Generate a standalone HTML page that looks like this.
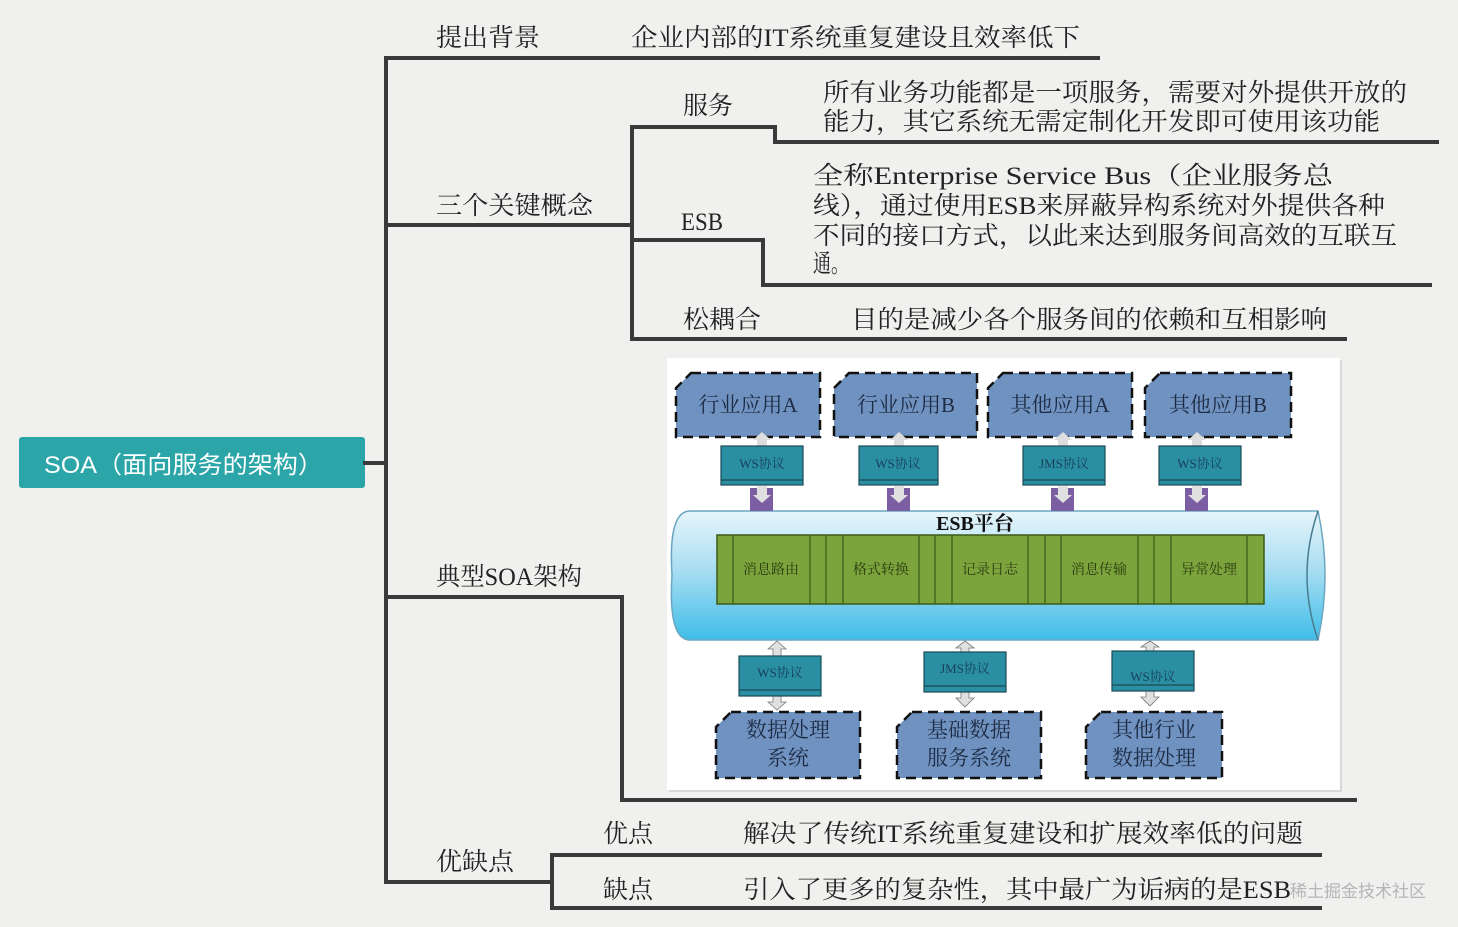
<!DOCTYPE html>
<html><head><meta charset="utf-8"><style>
html,body{margin:0;padding:0;background:#f0f0ef;}
svg{display:block;}
.t{font-family:"Liberation Serif","Noto Serif CJK SC",serif;fill:#222;font-size:25px;}
.s{font-family:"Liberation Serif","Noto Serif CJK SC",serif;font-size:21px;fill:#1d2b44;}
.p{font-family:"Liberation Serif","Noto Serif CJK SC",serif;font-size:13px;fill:#17405a;}
.g{font-family:"Liberation Serif","Noto Serif CJK SC",serif;font-size:14px;fill:#2b3a10;}
</style></head><body>
<svg width="1458" height="927" viewBox="0 0 1458 927" xmlns="http://www.w3.org/2000/svg">
<defs>
<linearGradient id="cyl" x1="0" y1="0" x2="0" y2="1">
<stop offset="0" stop-color="#e6f5fb"/><stop offset="0.45" stop-color="#a9def2"/><stop offset="1" stop-color="#3fbde8"/>
</linearGradient>
</defs>
<rect width="1458" height="927" fill="#f0f0ef"/>
<rect x="19" y="437" width="346" height="51" rx="3" fill="#2ba5a8"/>
<text x="44" y="473" font-family="'Liberation Sans','Noto Sans CJK SC',sans-serif" font-size="24" fill="#fff" textLength="279" lengthAdjust="spacingAndGlyphs">SOA（面向服务的架构）</text>
<g stroke="#3a3a3a" stroke-width="4" fill="none" stroke-linecap="square">
<line x1="365" y1="463" x2="386" y2="463"/>
<line x1="386" y1="58" x2="386" y2="882"/>
<line x1="386" y1="58" x2="1098" y2="58"/>
<line x1="386" y1="225" x2="632" y2="225"/>
<line x1="632" y1="127" x2="632" y2="339"/>
<polyline points="632,127 775,127 775,142 1437,142"/>
<polyline points="632,240 763,240 763,285 1430,285"/>
<line x1="632" y1="339" x2="1345" y2="339"/>
<polyline points="386,597 622,597 622,800 1355,800"/>
<line x1="386" y1="882" x2="552" y2="882"/>
<line x1="552" y1="855" x2="552" y2="908"/>
<line x1="552" y1="855" x2="1320" y2="855"/>
<line x1="552" y1="908" x2="1320" y2="908"/>
</g>
<text class="t" x="436" y="46" textLength="104" lengthAdjust="spacingAndGlyphs">提出背景</text>
<text class="t" x="631" y="46" textLength="449" lengthAdjust="spacingAndGlyphs">企业内部的IT系统重复建设且效率低下</text>
<text class="t" x="436" y="214" textLength="157" lengthAdjust="spacingAndGlyphs">三个关键概念</text>
<text class="t" x="683" y="114" textLength="50" lengthAdjust="spacingAndGlyphs">服务</text>
<text class="t" x="823" y="101" textLength="584" lengthAdjust="spacingAndGlyphs">所有业务功能都是一项服务，需要对外提供开放的</text>
<text class="t" x="823" y="130" textLength="557" lengthAdjust="spacingAndGlyphs">能力，其它系统无需定制化开发即可使用该功能</text>
<text class="t" x="681" y="230" textLength="42" lengthAdjust="spacingAndGlyphs">ESB</text>
<text class="t" x="813" y="184" textLength="520" lengthAdjust="spacingAndGlyphs">全称Enterprise Service Bus（企业服务总</text>
<text class="t" x="813" y="214" textLength="572" lengthAdjust="spacingAndGlyphs">线），通过使用ESB来屏蔽异构系统对外提供各种</text>
<text class="t" x="813" y="244" textLength="584" lengthAdjust="spacingAndGlyphs">不同的接口方式，以此来达到服务间高效的互联互</text>
<text class="t" x="813" y="272" textLength="36" lengthAdjust="spacingAndGlyphs">通。</text>
<text class="t" x="683" y="328" textLength="78" lengthAdjust="spacingAndGlyphs">松耦合</text>
<text class="t" x="851" y="328" textLength="476" lengthAdjust="spacingAndGlyphs">目的是减少各个服务间的依赖和互相影响</text>
<text class="t" x="436" y="585" textLength="146" lengthAdjust="spacingAndGlyphs">典型SOA架构</text>
<text class="t" x="436" y="870" textLength="78" lengthAdjust="spacingAndGlyphs">优缺点</text>
<text class="t" x="603" y="842" textLength="50" lengthAdjust="spacingAndGlyphs">优点</text>
<text class="t" x="743" y="842" textLength="560" lengthAdjust="spacingAndGlyphs">解决了传统IT系统重复建设和扩展效率低的问题</text>
<text class="t" x="603" y="898" textLength="50" lengthAdjust="spacingAndGlyphs">缺点</text>
<text class="t" x="743" y="898" textLength="548" lengthAdjust="spacingAndGlyphs">引入了更多的复杂性，其中最广为诟病的是ESB</text>
<rect x="669" y="360" width="673" height="432" fill="#d8d8d8"/>
<rect x="667" y="358" width="673" height="432" fill="#fff"/>
<path d="M690,511 L1318,511 Q1332,575 1318,640 L690,640 Q668,640 672,575 Q668,511 690,511 Z" fill="url(#cyl)" stroke="#6aa6c0" stroke-width="1.5"/>
<path d="M1318,511 Q1296,575 1318,640" fill="none" stroke="#4a7a90" stroke-width="1.5"/>
<text x="975" y="530" text-anchor="middle" font-family="'Liberation Serif','Noto Serif CJK SC',serif" font-size="20" font-weight="bold" fill="#111">ESB平台</text>
<rect x="717" y="535" width="547" height="69" fill="#7ba43c" stroke="#3c5a18" stroke-width="1.5"/>
<g stroke="#3c5a18" stroke-width="1.2">
<line x1="733" y1="535" x2="733" y2="604"/><line x1="810" y1="535" x2="810" y2="604"/><line x1="826" y1="535" x2="826" y2="604"/><line x1="843" y1="535" x2="843" y2="604"/>
<line x1="919" y1="535" x2="919" y2="604"/><line x1="935" y1="535" x2="935" y2="604"/><line x1="952" y1="535" x2="952" y2="604"/>
<line x1="1028" y1="535" x2="1028" y2="604"/><line x1="1045" y1="535" x2="1045" y2="604"/><line x1="1061" y1="535" x2="1061" y2="604"/>
<line x1="1138" y1="535" x2="1138" y2="604"/><line x1="1154" y1="535" x2="1154" y2="604"/><line x1="1171" y1="535" x2="1171" y2="604"/><line x1="1247" y1="535" x2="1247" y2="604"/>
</g>
<text class="g" x="771" y="574" text-anchor="middle">消息路由</text>
<text class="g" x="881" y="574" text-anchor="middle">格式转换</text>
<text class="g" x="990" y="574" text-anchor="middle">记录日志</text>
<text class="g" x="1099" y="574" text-anchor="middle">消息传输</text>
<text class="g" x="1209" y="574" text-anchor="middle">异常处理</text>
<g fill="#7092c0" stroke="#111" stroke-width="2.5" stroke-dasharray="10,6">
<polygon points="691,373 820,373 820,437 676,437 676,388"/>
<polygon points="849,373 977,373 977,437 834,437 834,388"/>
<polygon points="1003,373 1132,373 1132,437 988,437 988,388"/>
<polygon points="1160,373 1291,373 1291,437 1145,437 1145,388"/>
<polygon points="731,712 860,712 860,778 716,778 716,727"/>
<polygon points="912,712 1041,712 1041,778 897,778 897,727"/>
<polygon points="1101,712 1222,712 1222,778 1086,778 1086,727"/>
</g>
<text class="s" x="748" y="412" text-anchor="middle">行业应用A</text>
<text class="s" x="906" y="412" text-anchor="middle">行业应用B</text>
<text class="s" x="1060" y="412" text-anchor="middle">其他应用A</text>
<text class="s" x="1218" y="412" text-anchor="middle">其他应用B</text>
<text class="s" x="788" y="737" text-anchor="middle">数据处理</text>
<text class="s" x="788" y="765" text-anchor="middle">系统</text>
<text class="s" x="969" y="737" text-anchor="middle">基础数据</text>
<text class="s" x="969" y="765" text-anchor="middle">服务系统</text>
<text class="s" x="1154" y="737" text-anchor="middle">其他行业</text>
<text class="s" x="1154" y="765" text-anchor="middle">数据处理</text>
<g>
<g transform="translate(762,0)"><rect x="-12" y="488" width="23" height="23" fill="#7b5fa2"/><polygon points="-5,432 5,432 5,438 9,438 0,446 -9,438 -5,438" fill="#ddd" transform="rotate(180 0 439)"/><polygon points="-5,486 5,486 5,495 9,495 0,503 -9,495 -5,495" fill="#e0e0e0"/></g>
<g transform="translate(899,0)"><rect x="-12" y="488" width="23" height="23" fill="#7b5fa2"/><polygon points="-5,432 5,432 5,438 9,438 0,446 -9,438 -5,438" fill="#ddd" transform="rotate(180 0 439)"/><polygon points="-5,486 5,486 5,495 9,495 0,503 -9,495 -5,495" fill="#e0e0e0"/></g>
<g transform="translate(1063,0)"><rect x="-12" y="488" width="23" height="23" fill="#7b5fa2"/><polygon points="-5,432 5,432 5,438 9,438 0,446 -9,438 -5,438" fill="#ddd" transform="rotate(180 0 439)"/><polygon points="-5,486 5,486 5,495 9,495 0,503 -9,495 -5,495" fill="#e0e0e0"/></g>
<g transform="translate(1197,0)"><rect x="-12" y="488" width="23" height="23" fill="#7b5fa2"/><polygon points="-5,432 5,432 5,438 9,438 0,446 -9,438 -5,438" fill="#ddd" transform="rotate(180 0 439)"/><polygon points="-5,486 5,486 5,495 9,495 0,503 -9,495 -5,495" fill="#e0e0e0"/></g>
</g>
<g fill="#e0e0e0" stroke="#777" stroke-width="0.8">
<polygon points="777,641 786,649 781,649 781,656 773,656 773,649 768,649"/><polygon points="773,696 781,696 781,702 786,702 777,710 768,702 773,702"/>
<polygon points="965,641 974,648 969,648 969,652 961,652 961,648 956,648"/><polygon points="961,692 969,692 969,698 974,698 965,707 956,698 961,698"/>
<polygon points="1150,641 1159,647 1154,647 1154,651 1146,651 1146,647 1141,647"/><polygon points="1146,691 1154,691 1154,697 1159,697 1150,706 1141,697 1146,697"/>
</g>
<g fill="#2b8fa3" stroke="#1b4a55" stroke-width="1.2">
<rect x="721" y="446" width="82" height="39"/><rect x="859" y="446" width="79" height="39"/><rect x="1023" y="446" width="82" height="39"/><rect x="1159" y="446" width="82" height="39"/>
<rect x="739" y="656" width="82" height="40"/><rect x="924" y="652" width="82" height="40"/><rect x="1112" y="651" width="82" height="40"/>
</g>
<g stroke="#1b4a55" stroke-width="1.2">
<line x1="721" y1="480" x2="803" y2="480"/><line x1="859" y1="480" x2="938" y2="480"/><line x1="1023" y1="480" x2="1105" y2="480"/><line x1="1159" y1="480" x2="1241" y2="480"/>
<line x1="739" y1="690" x2="821" y2="690"/><line x1="924" y1="686" x2="1006" y2="686"/><line x1="1112" y1="685" x2="1194" y2="685"/>
</g>
<text class="p" x="762" y="468" text-anchor="middle">WS协议</text>
<text class="p" x="898" y="468" text-anchor="middle">WS协议</text>
<text class="p" x="1064" y="468" text-anchor="middle">JMS协议</text>
<text class="p" x="1200" y="468" text-anchor="middle">WS协议</text>
<text class="p" x="780" y="677" text-anchor="middle">WS协议</text>
<text class="p" x="965" y="673" text-anchor="middle">JMS协议</text>
<text class="p" x="1153" y="681" text-anchor="middle">WS协议</text>
<text x="1290" y="897" font-family="'Liberation Sans','Noto Sans CJK SC',sans-serif" font-size="17" fill="#b5b5b5">稀土掘金技术社区</text>
</svg>
</body></html>
